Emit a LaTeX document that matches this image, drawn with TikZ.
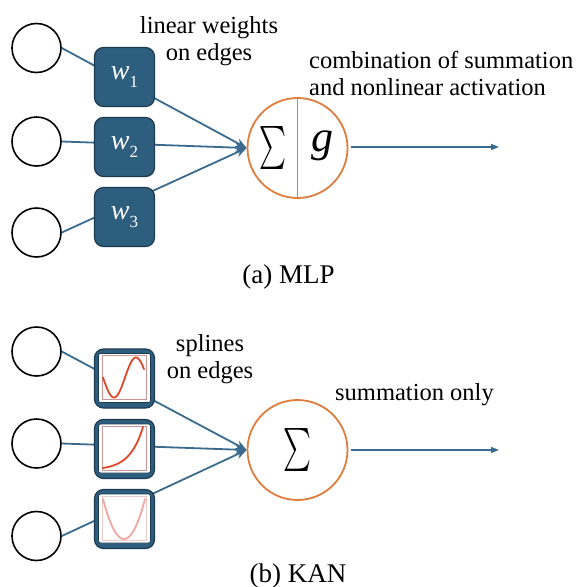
\documentclass[tikz,border=0pt]{standalone}
\usepackage{fontspec}
\setmainfont{Liberation Serif}
\usetikzlibrary{arrows.meta}

\definecolor{edgeblue}{HTML}{3A6B8F}
\definecolor{wfill}{HTML}{2E5E7E}
\definecolor{wdraw}{HTML}{1C3A4F}
\definecolor{sumorange}{HTML}{E07D3C}
\definecolor{splred}{HTML}{E0462A}
\definecolor{splpink}{HTML}{F0A6A2}
\definecolor{framepink}{HTML}{C99595}
\definecolor{framelight}{HTML}{EDCACA}

% italic weight symbol with an upright index
\newcommand{\wsym}[1]{{\itshape w}\raisebox{-0.28em}{\fontsize{17}{17}\selectfont #1}}

\begin{document}
\begin{tikzpicture}[x=1pt,y=-1pt,
  inp/.style={circle,draw=black,line width=1.6pt,minimum size=49pt,inner sep=0pt},
  wbox/.style={rounded corners=9pt,fill=wfill,draw=wdraw,line width=1.2pt,
    minimum width=60pt,minimum height=59pt,inner sep=0pt,text=white,
    font=\rmfamily\fontsize{28}{28}\selectfont},
  neuron/.style={circle,draw=sumorange,line width=1.8pt,minimum size=100pt,inner sep=0pt},
  edge/.style={draw=edgeblue,line width=1.8pt,-{Stealth[length=11pt,width=9pt]}},
  outedge/.style={draw=edgeblue,line width=1.5pt,-{Triangle[length=8pt,width=6pt]}},
  lbl/.style={font=\rmfamily\fontsize{24.5}{27}\selectfont,inner sep=0pt},
  subcaption/.style={font=\rmfamily\fontsize{27}{27}\selectfont,inner sep=0pt,anchor=base},
  splinewin/.style={fill=white,draw=wdraw,line width=0.8pt,rounded corners=2pt},
  spline/.style={line width=1.8pt,line cap=round}
]
\useasboundingbox (0,0) rectangle (577,587);

% ---------------- (a) MLP ----------------
\node[inp] (a1) at (36.5,48) {};
\node[inp] (a2) at (36.5,141.5) {};
\node[inp] (a3) at (36.5,232.5) {};
\node[neuron] (s1) at (297.5,148) {};
\coordinate (o1) at (499,147);

\draw[edge] (a1.east) -- (s1.west);
\draw[edge] (a2.east) -- (s1.west);
\draw[edge] (a3.east) -- (s1.west);
\draw[outedge] ([xshift=3pt]s1.east |- o1) -- (o1);

\node[wbox] (w1) at (124.5,77) {\wsym{1}};
\node[wbox] (w2) at (124.5,147) {\wsym{2}};
\node[wbox] (w3) at (124.5,217) {\wsym{3}};

\draw[draw=sumorange,line width=1.8pt] (s1.north) -- (s1.south);
\node[inner sep=0pt] (sig1) at (273,148) {\resizebox*{27pt}{43pt}{$\sum$}};
\node[inner sep=0pt,font=\rmfamily\itshape\fontsize{44}{44}\selectfont] (g1) at (322,146) {g};

\node[lbl,align=center,anchor=north] (t1) at (209,16) {linear weights\\on edges};
\node[lbl,align=left,anchor=north west] (t2) at (309,51) {combination of summation\\and nonlinear activation};
\node[subcaption] (c1) at (288.5,283) {(a) MLP};

% ---------------- (b) KAN ----------------
\node[inp] (b1) at (36.5,351.5) {};
\node[inp] (b2) at (36.5,443.5) {};
\node[inp] (b3) at (36.5,536) {};
\node[neuron] (s2) at (297.5,450) {};
\coordinate (o2) at (499,450);

\draw[edge] (b1.east) -- (s2.west);
\draw[edge] (b2.east) -- (s2.west);
\draw[edge] (b3.east) -- (s2.west);
\draw[outedge] ([xshift=3pt]s2.east |- o2) -- (o2);

\node[wbox] (k1) at (124.5,378.5) {};
\node[wbox] (k2) at (124.5,449) {};
\node[wbox] (k3) at (124.5,519) {};

% spline 1: one period of a sine
\begin{scope}[shift={(k1.center)}]
  \draw[splinewin] (-26,-25) rectangle (26,24);
  \draw[framepink,line width=0.8pt] (-22,-23) rectangle (22,21);
  \draw[spline,splred] plot[domain=-21.5:19.5,samples=60,smooth]
    (\x,{-1+20*sin(360*(\x+21.5)/44)});
\end{scope}
% spline 2: exponential rise
\begin{scope}[shift={(k2.center)}]
  \draw[splinewin] (-26,-25) rectangle (26,24);
  \draw[framepink,line width=0.8pt] (-22,-23) rectangle (22,21);
  \draw[spline,splred] plot[domain=-21.5:18.5,samples=60,smooth]
    (\x,{19-41*(exp(3*(\x+21.5)/40)-1)/(exp(3)-1)});
\end{scope}
% spline 3: parabola
\begin{scope}[shift={(k3.center)}]
  \draw[splinewin] (-26,-25) rectangle (26,24);
  \draw[framelight,line width=0.8pt] (-22,-23) rectangle (22,21);
  \draw[spline,splpink] plot[domain=-21.5:20.5,samples=60,smooth]
    (\x,{20-40*((\x+0.5)/21)^2});
\end{scope}

\node[inner sep=0pt] (sig2) at (297.5,450) {\resizebox*{28pt}{43pt}{$\sum$}};

\node[lbl,align=center,anchor=north] (t3) at (210,334) {splines\\on edges};
\node[lbl,anchor=base west] (t4) at (335,400) {summation only};
\node[subcaption] (c2) at (298,582) {(b) KAN};
\end{tikzpicture}
\end{document}
